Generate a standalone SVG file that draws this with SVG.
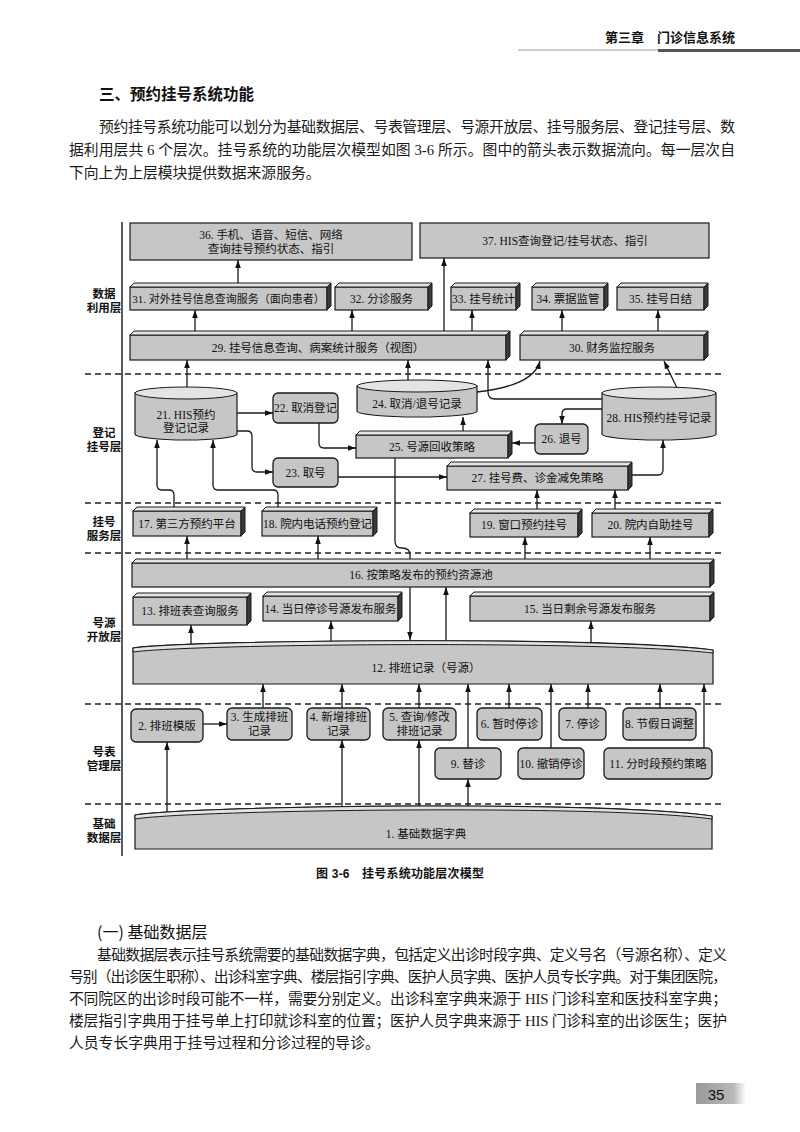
<svg xmlns="http://www.w3.org/2000/svg" width="800" height="1132" viewBox="0 0 800 1132">
<defs>
<marker id="ah" viewBox="0 0 10 7" markerWidth="8" markerHeight="5.6" refX="10" refY="3.5" orient="auto" markerUnits="userSpaceOnUse"><path d="M0,0 L10,3.5 L0,7 Z" fill="#111"/></marker>
<linearGradient id="pg" x1="0" y1="0" x2="1" y2="0"><stop offset="0" stop-color="#9a9a9a"/><stop offset="0.75" stop-color="#b8b8b8"/><stop offset="1" stop-color="#fff"/></linearGradient>
</defs>
<style>
.box{fill:#c6c6c6;stroke:#1a1a1a;stroke-width:1.2}
.top{fill:#e4e4e4;stroke:#1a1a1a;stroke-width:1}
.side{fill:#3a3a3a;stroke:#1a1a1a;stroke-width:1}
.rb{fill:#c6c6c6;stroke:#1a1a1a;stroke-width:1.3}
.t{font-family:"Liberation Serif","Noto Sans CJK SC",serif;font-size:11.5px;fill:#111;text-anchor:middle}
.lay{font-family:"Noto Sans CJK SC",sans-serif;font-size:11.5px;font-weight:bold;fill:#111;text-anchor:middle}
.con{fill:none;stroke:#1a1a1a;stroke-width:1.3;marker-end:url(#ah)}
.dash{stroke:#222;stroke-width:1.3;stroke-dasharray:6 4}
.body{font-family:"Liberation Serif","Noto Sans CJK SC",serif;font-size:14.8px;fill:#1a1a1a}
</style>
<rect width="800" height="1132" fill="#fff"/>
<!-- header -->
<g id="header">
<text x="735" y="42" text-anchor="end" style="font-family:'Noto Sans CJK SC',sans-serif;font-size:13px;font-weight:bold;fill:#111">第三章　门诊信息系统</text>
<line x1="518" y1="50" x2="800" y2="50" stroke="#999" stroke-width="1"/>
<line x1="658" y1="50.5" x2="800" y2="50.5" stroke="#555" stroke-width="3"/>
</g>
<g id="intro">
<text x="99" y="100" style="font-family:'Noto Sans CJK SC',sans-serif;font-size:15.5px;font-weight:bold;fill:#111">三、预约挂号系统功能</text>
<text class="body" x="99" y="132" textLength="636" lengthAdjust="spacing">预约挂号系统功能可以划分为基础数据层、号表管理层、号源开放层、挂号服务层、登记挂号层、数</text>
<text class="body" x="69" y="155" textLength="666" lengthAdjust="spacing">据利用层共 6 个层次。挂号系统的功能层次模型如图 3-6 所示。图中的箭头表示数据流向。每一层次自</text>
<text class="body" x="69" y="178">下向上为上层模块提供数据来源服务。</text>
</g>
<!-- layers frame -->
<g id="layers">
<line x1="122" y1="222" x2="122" y2="856" stroke="#222" stroke-width="1.5"/>
<line class="dash" x1="85" y1="374" x2="725" y2="374"/>
<line class="dash" x1="85" y1="503" x2="725" y2="503"/>
<line class="dash" x1="85" y1="553" x2="725" y2="553"/>
<line class="dash" x1="85" y1="704" x2="725" y2="704"/>
<line class="dash" x1="85" y1="804" x2="725" y2="804"/>
<text class="lay" x="104" y="298">数据</text><text class="lay" x="104" y="312">利用层</text>
<text class="lay" x="104" y="437">登记</text><text class="lay" x="104" y="451">挂号层</text>
<text class="lay" x="104" y="526">挂号</text><text class="lay" x="104" y="540">服务层</text>
<text class="lay" x="104" y="627">号源</text><text class="lay" x="104" y="641">开放层</text>
<text class="lay" x="104" y="756">号表</text><text class="lay" x="104" y="770">管理层</text>
<text class="lay" x="104" y="828">基础</text><text class="lay" x="104" y="842">数据层</text>
</g>
<!-- connectors -->
<g id="connectors">
<path class="con" d="M203,724 L227,724"/>
<path class="con" d="M263,712 L263,684"/>
<path class="con" d="M342,712 L342,684"/>
<path class="con" d="M419,712 L419,684"/>
<path class="con" d="M468,752 L468,684"/>
<path class="con" d="M509,712 L509,684"/>
<path class="con" d="M551,752 L551,684"/>
<path class="con" d="M588,712 L588,684"/>
<path class="con" d="M660,712 L660,684"/>
<path class="con" d="M704,752 L704,684"/>
<path class="con" d="M167,818 L167,742"/>
<path class="con" d="M342,812 L342,740"/>
<path class="con" d="M419,812 L419,740"/>
<path class="con" d="M468,812 L468,779"/>
<path class="con" d="M191,652 L191,625"/>
<path class="con" d="M331,648 L331,621"/>
<path class="con" d="M446,646 L446,587"/>
<path class="con" d="M591,646 L591,621"/>
<path class="con" d="M187,564 L187,536"/>
<path class="con" d="M318,564 L318,536"/>
<path class="con" d="M525,564 L525,537"/>
<path class="con" d="M650,564 L650,537"/>
<path class="con" d="M174,512 L174,495 Q174,490 169,490 L162,490 Q157,490 157,485 L157,440"/>
<path class="con" d="M278,512 L278,495 Q278,490 273,490 L218,490 Q213,490 213,485 L213,440"/>
<path class="con" d="M537,514 L537,490"/>
<path class="con" d="M615,514 L615,490"/>
<path class="con" d="M395,455 L395,541 Q395,548 402,548 Q410,548 410,555 L410,640"/>
<path class="con" d="M237,413 L273,413"/>
<path class="con" d="M237,431 L247,431 Q252,431 252,436 L252,467 Q252,472 257,472 L273,472"/>
<path class="con" d="M319,423 L319,443 Q319,448 324,448 L356,448"/>
<path class="con" d="M338,477 L447,477"/>
<path class="con" d="M535,443 L512,443"/>
<path class="con" d="M463,435 L463,417"/>
<path class="con" d="M632,475 L658,475 Q663,475 663,470 L663,440"/>
<path class="con" d="M604,409 L567,409 Q562,409 562,414 L562,424"/>
<path class="con" d="M604,399 L495,399 Q488,399 488,392 L488,360"/>
<path class="con" d="M677,388 L664,361"/>
<path class="con" d="M477,392 C510,388 535,380 540,361"/>
<path class="con" d="M408,384 L408,360"/>
<path class="con" d="M187,390 L187,360"/>
<path class="con" d="M195,335 L195,310"/>
<path class="con" d="M352,335 L352,310"/>
<path class="con" d="M444,335 L444,258"/>
<path class="con" d="M472,335 L472,310"/>
<path class="con" d="M562,335 L562,310"/>
<path class="con" d="M658,335 L658,310"/>
<path class="con" d="M238,287 L238,260"/>
</g>
<!-- nodes -->
<g id="n36"><rect class="box" x="130" y="223" width="282" height="37" stroke-width="1.6"/><text class="t" x="271" y="239">36. 手机、语音、短信、网络</text><text class="t" x="271" y="253">查询挂号预约状态、指引</text></g>
<g id="n37"><rect class="box" x="420" y="223" width="289" height="35" stroke-width="1.6"/><text class="t" x="565" y="245">37. HIS查询登记/挂号状态、指引</text></g>
<g id="n31"><rect class="box" x="130" y="287" width="197" height="23"/><polygon class="top" points="130,287 134,283 331,283 327,287"/><polygon class="side" points="327,287 331,283 331,306 327,310"/><text class="t" x="228.5" y="302.5" style="font-size:11px">31. 对外挂号信息查询服务（面向患者）</text></g>
<g id="n32"><rect class="box" x="335" y="287" width="93" height="23"/><polygon class="top" points="335,287 339,283 432,283 428,287"/><polygon class="side" points="428,287 432,283 432,306 428,310"/><text class="t" x="381.5" y="302.5">32. 分诊服务</text></g>
<g id="n33"><rect class="box" x="451" y="287" width="65" height="23"/><polygon class="top" points="451,287 455,283 520,283 516,287"/><polygon class="side" points="516,287 520,283 520,306 516,310"/><text class="t" x="483.5" y="302.5">33. 挂号统计</text></g>
<g id="n34"><rect class="box" x="532" y="287" width="72" height="23"/><polygon class="top" points="532,287 536,283 608,283 604,287"/><polygon class="side" points="604,287 608,283 608,306 604,310"/><text class="t" x="568" y="302.5">34. 票据监管</text></g>
<g id="n35"><rect class="box" x="617" y="287" width="87" height="23"/><polygon class="top" points="617,287 621,283 708,283 704,287"/><polygon class="side" points="704,287 708,283 708,306 704,310"/><text class="t" x="660.5" y="302.5">35. 挂号日结</text></g>
<g id="n29"><rect class="box" x="130" y="335" width="376" height="25"/><polygon class="top" points="130,335 134,331 510,331 506,335"/><polygon class="side" points="506,335 510,331 510,356 506,360"/><text class="t" x="318" y="351.5">29. 挂号信息查询、病案统计服务（视图）</text></g>
<g id="n30"><rect class="box" x="520" y="335" width="184" height="25"/><polygon class="top" points="520,335 524,331 708,331 704,335"/><polygon class="side" points="704,335 708,331 708,356 704,360"/><text class="t" x="612" y="351.5">30. 财务监控服务</text></g>
<g id="n21"><path class="box" d="M135,393 L135,434 A51,6 0 0 0 237,434 L237,393 Z"/><ellipse class="top" cx="186" cy="393" rx="51" ry="6"/><text class="t" x="186" y="419">21. HIS预约</text><text class="t" x="186" y="432">登记记录</text></g>
<g id="n22"><rect class="rb" x="273" y="393" width="65" height="30" rx="5"/><text class="t" x="305.5" y="412">22. 取消登记</text></g>
<g id="n24"><path class="box" d="M357,386 L357,411 A60,6 0 0 0 477,411 L477,386 Z"/><ellipse class="top" cx="417" cy="386" rx="60" ry="6"/><text class="t" x="417" y="408">24. 取消/退号记录</text></g>
<g id="n25"><rect class="box" x="356" y="435" width="152" height="23"/><polygon class="top" points="356,435 360,431 512,431 508,435"/><polygon class="side" points="508,435 512,431 512,454 508,458"/><text class="t" x="432" y="450.5">25. 号源回收策略</text></g>
<g id="n26"><rect class="rb" x="535" y="424" width="53" height="30" rx="5"/><text class="t" x="561.5" y="443">26. 退号</text></g>
<g id="n28"><path class="box" d="M602,393 L602,434 A57,6 0 0 0 716,434 L716,393 Z"/><ellipse class="top" cx="659" cy="393" rx="57" ry="6"/><text class="t" x="659" y="422">28. HIS预约挂号记录</text></g>
<g id="n23"><rect class="rb" x="273" y="458" width="65" height="29" rx="5"/><text class="t" x="305.5" y="476.5">23. 取号</text></g>
<g id="n27"><rect class="box" x="447" y="466" width="181" height="24"/><polygon class="top" points="447,466 451,462 632,462 628,466"/><polygon class="side" points="628,466 632,462 632,486 628,490"/><text class="t" x="537.5" y="482">27. 挂号费、诊金减免策略</text></g>
<g id="n17"><rect class="box" x="133" y="511" width="108" height="25"/><polygon class="top" points="133,511 137,507 245,507 241,511"/><polygon class="side" points="241,511 245,507 245,532 241,536"/><text class="t" x="187" y="527.5">17. 第三方预约平台</text></g>
<g id="n18"><rect class="box" x="262" y="511" width="111" height="25"/><polygon class="top" points="262,511 266,507 377,507 373,511"/><polygon class="side" points="373,511 377,507 377,532 373,536"/><text class="t" x="317.5" y="527.5">18. 院内电话预约登记</text></g>
<g id="n19"><rect class="box" x="470" y="513" width="108" height="24"/><polygon class="top" points="470,513 474,509 582,509 578,513"/><polygon class="side" points="578,513 582,509 582,533 578,537"/><text class="t" x="524" y="529">19. 窗口预约挂号</text></g>
<g id="n20"><rect class="box" x="592" y="513" width="117" height="24"/><polygon class="top" points="592,513 596,509 713,509 709,513"/><polygon class="side" points="709,513 713,509 713,533 709,537"/><text class="t" x="650.5" y="529">20. 院内自助挂号</text></g>
<g id="n16"><rect class="box" x="132" y="563" width="578" height="24"/><polygon class="top" points="132,563 136,559 714,559 710,563"/><polygon class="side" points="710,563 714,559 714,583 710,587"/><text class="t" x="421" y="579">16. 按策略发布的预约资源池</text></g>
<g id="n13"><rect class="box" x="133" y="597" width="114" height="28"/><polygon class="top" points="133,597 137,593 251,593 247,597"/><polygon class="side" points="247,597 251,593 251,621 247,625"/><text class="t" x="190" y="615">13. 排班表查询服务</text></g>
<g id="n14"><rect class="box" x="263" y="596" width="135" height="25"/><polygon class="top" points="263,596 267,592 402,592 398,596"/><polygon class="side" points="398,596 402,592 402,617 398,621"/><text class="t" x="330.5" y="612.5">14. 当日停诊号源发布服务</text></g>
<g id="n15"><rect class="box" x="470" y="596" width="240" height="25"/><polygon class="top" points="470,596 474,592 714,592 710,596"/><polygon class="side" points="710,596 714,592 714,617 710,621"/><text class="t" x="590" y="612.5">15. 当日剩余号源发布服务</text></g>
<g id="n12"><path class="box" d="M133,648 C190,640 600,636 713,650 L713,684 L133,684 Z"/><path class="top" d="M133,648 C190,640 600,636 713,650 L713,653 C600,640 190,644 133,652 Z"/><text class="t" x="426" y="672">12. 排班记录（号源）</text></g>
<g id="n2"><rect class="rb" x="131" y="709" width="72" height="33" rx="5"/><text class="t" x="167" y="729.5">2. 排班模版</text></g>
<g id="n3"><rect class="rb" x="227" y="708" width="65" height="32" rx="5"/><text class="t" x="259.5" y="721">3. 生成排班</text><text class="t" x="259.5" y="735">记录</text></g>
<g id="n4"><rect class="rb" x="307" y="708" width="63" height="32" rx="5"/><text class="t" x="338.5" y="721">4. 新增排班</text><text class="t" x="338.5" y="735">记录</text></g>
<g id="n5"><rect class="rb" x="383" y="708" width="73" height="32" rx="5"/><text class="t" x="419.5" y="721">5. 查询/修改</text><text class="t" x="419.5" y="735">排班记录</text></g>
<g id="n6"><rect class="rb" x="477" y="708" width="65" height="32" rx="5"/><text class="t" x="509.5" y="728">6. 暂时停诊</text></g>
<g id="n7"><rect class="rb" x="559" y="708" width="47" height="32" rx="5"/><text class="t" x="582.5" y="728">7. 停诊</text></g>
<g id="n8"><rect class="rb" x="623" y="708" width="73" height="32" rx="5"/><text class="t" x="659.5" y="728">8. 节假日调整</text></g>
<g id="n9"><rect class="rb" x="435" y="748" width="66" height="31" rx="5"/><text class="t" x="468" y="767.5">9. 替诊</text></g>
<g id="n10"><rect class="rb" x="518" y="748" width="66" height="31" rx="5"/><text class="t" x="551" y="767.5">10. 撤销停诊</text></g>
<g id="n11"><rect class="rb" x="604" y="748" width="108" height="31" rx="5"/><text class="t" x="658" y="767.5">11. 分时段预约策略</text></g>
<g id="n1"><path class="box" d="M135,815 C190,806 600,800 712,816 L712,849 L135,849 Z"/><path class="top" d="M135,815 C190,806 600,800 712,816 L712,819 C600,804 190,810 135,819 Z"/><text class="t" x="426" y="838">1. 基础数据字典</text></g>
<!-- caption and text -->
<g id="caption">
<text x="316" y="878" textLength="168" lengthAdjust="spacing" style="font-family:'Liberation Sans','Noto Sans CJK SC',sans-serif;font-size:12px;font-weight:bold;fill:#111">图 3-6　挂号系统功能层次模型</text>
</g>
<g id="section">
<text x="97" y="938" style="font-family:'Noto Sans CJK SC',sans-serif;font-size:16px;fill:#111">(一) 基础数据层</text>
<text class="body" x="97" y="960" textLength="630" lengthAdjust="spacing">基础数据层表示挂号系统需要的基础数据字典，包括定义出诊时段字典、定义号名（号源名称）、定义</text>
<text class="body" x="69" y="982" textLength="658" lengthAdjust="spacing">号别（出诊医生职称）、出诊科室字典、楼层指引字典、医护人员字典、医护人员专长字典。对于集团医院，</text>
<text class="body" x="69" y="1004" textLength="658" lengthAdjust="spacing">不同院区的出诊时段可能不一样，需要分别定义。出诊科室字典来源于 HIS 门诊科室和医技科室字典；</text>
<text class="body" x="69" y="1026" textLength="658" lengthAdjust="spacing">楼层指引字典用于挂号单上打印就诊科室的位置；医护人员字典来源于 HIS 门诊科室的出诊医生；医护</text>
<text class="body" x="69" y="1048">人员专长字典用于挂号过程和分诊过程的导诊。</text>
</g>
<g id="pagenum">
<rect x="696" y="1083" width="50" height="21" fill="url(#pg)"/>
<text x="716" y="1100" text-anchor="middle" style="font-family:'Liberation Sans',sans-serif;font-size:15px;fill:#111">35</text>
</g>
</svg>
